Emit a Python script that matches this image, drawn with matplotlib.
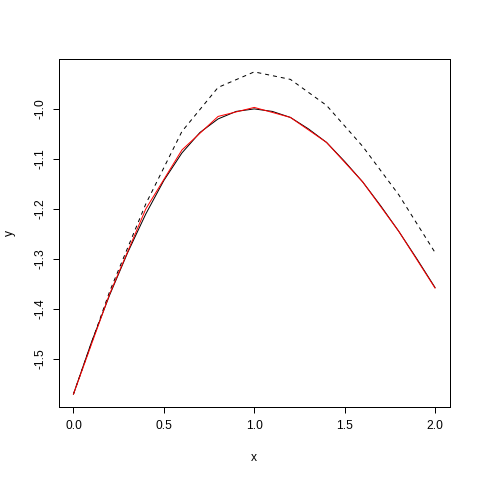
import matplotlib
matplotlib.use("Agg")
import matplotlib.pyplot as plt

x_true = [0.0, 0.1, 0.2, 0.3, 0.4, 0.5, 0.6, 0.7, 0.8, 0.9, 1.0,
          1.1, 1.2, 1.3, 1.4, 1.5, 1.6, 1.7, 1.8, 1.9, 2.0]
y_true = [-1.570, -1.466, -1.372, -1.287, -1.210, -1.143, -1.088, -1.047, -1.020, -1.005, -1.000,
          -1.005, -1.017, -1.040, -1.067, -1.105, -1.146, -1.194, -1.245, -1.300, -1.357]
x = [0.0, 0.2, 0.4, 0.6, 0.8, 1.0, 1.2, 1.4, 1.6, 1.8, 2.0]
y_fit = [-1.570, -1.370, -1.200, -1.082, -1.015, -0.997, -1.017, -1.067, -1.146, -1.245, -1.358]
y_dash = [-1.570, -1.365, -1.190, -1.045, -0.957, -0.926, -0.941, -0.993, -1.075, -1.172, -1.287]
xticks = [0.0, 0.5, 1.0, 1.5, 2.0]
yticks = [-1.5, -1.4, -1.3, -1.2, -1.1, -1.0]

plt.rcParams['font.family'] = ['Liberation Sans', 'DejaVu Sans']
fig = plt.figure(figsize=(480/72, 480/72), dpi=72)
ax = fig.add_axes([59/480, (480-407)/480, (449.5-59)/480, (407-59)/480])

ax.plot(x, y_dash, color='black', lw=1, linestyle=(0, (4, 4)))
ax.plot(x_true, y_true, color='black', lw=1)
ax.plot(x, y_fit, color='#FF0000', lw=1)

allv = y_true + y_fit + y_dash
lo, hi = min(allv), max(allv)
r = hi - lo
ax.set_xlim(-0.08, 2.08)
ax.set_ylim(lo - 0.04 * r, hi + 0.04 * r)

ax.set_xticks(xticks)
ax.set_xticklabels([f"{v:.1f}" for v in xticks])
ax.set_yticks(yticks)
ax.set_yticklabels([f"{v:.1f}" for v in yticks], rotation=90, va='center')
ax.tick_params(axis='both', direction='out', length=6, width=1, labelsize=12, colors='black')
ax.tick_params(axis='x', pad=7)
ax.tick_params(axis='y', pad=7)
for s in ax.spines.values():
    s.set_linewidth(1)
    s.set_color('black')

ax.set_xlabel('x', fontsize=12, labelpad=20)
ax.set_ylabel('y', fontsize=12, labelpad=18)

fig.savefig('out.png', dpi=72)
